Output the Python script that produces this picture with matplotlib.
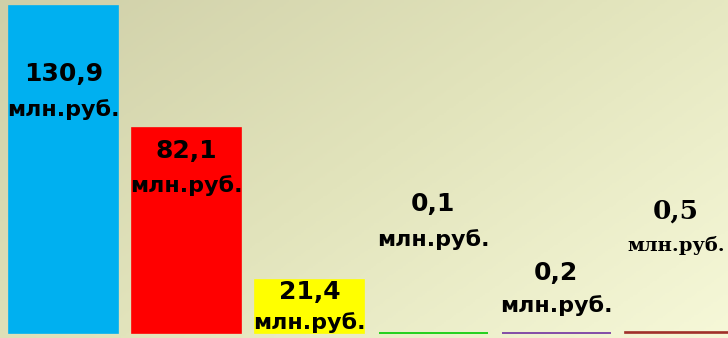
import numpy as np
import matplotlib
matplotlib.use("Agg")
import matplotlib.pyplot as plt
from matplotlib.colors import LinearSegmentedColormap

values = [130.9, 82.1, 21.4, 0.1, 0.2, 0.5]
labels = ["130,9", "82,1", "21,4", "0,1", "0,2", "0,5"]
unit = "млн.руб."
colors = ["#00b0f0", "#ff0000", "#ffff00", "#00cc00", "#7030a0", "#a0302a"]

# label placement (value line y, unit line y) in data units
label_y = [(103.5, 89.5), (73.0, 59.0), (16.5, 4.0), (51.5, 37.5), (24.0, 11.0), (49.0, 35.0)]

fig = plt.figure(figsize=(7.28, 3.38), dpi=100)

# background gradient
bg = fig.add_axes([0, 0, 1, 1])
gx, gy = np.meshgrid(np.linspace(0, 1, 300), np.linspace(0, 1, 150))
grad = (gx * 0.6 + gy * 0.4)
cmap = LinearSegmentedColormap.from_list("bg", ["#cfcfa8", "#e2e4bc", "#f6f8d8"])
bg.imshow(grad, cmap=cmap, aspect="auto", extent=[0, 1, 0, 1], origin="upper")
bg.set_axis_off()

ax = fig.add_axes([0, 0, 1, 1])
ax.patch.set_alpha(0)
x = np.arange(len(values))
ax.bar(x, values, width=0.885, color=colors, edgecolor=colors, linewidth=1.2)
ax.set_xlim(-0.515, 5.394)
ax.set_ylim(-2.0, 133.3)
ax.set_axis_off()

for i, (lab, (y1, y2)) in enumerate(zip(labels, label_y)):
    if i == 5:
        ax.text(i - 0.03, y1, lab, ha="center", va="center", fontsize=19,
                fontweight="bold", family="DejaVu Serif", color="black")
        ax.text(5.37, y2, unit, ha="right", va="center", fontsize=14,
                fontweight="bold", family="DejaVu Serif", color="black")
    else:
        ax.text(i, y1, lab, ha="center", va="center", fontsize=18,
                fontweight="bold", family="DejaVu Sans", color="black")
        ax.text(i, y2, unit, ha="center", va="center", fontsize=16,
                fontweight="bold", family="DejaVu Sans", color="black")

fig.savefig("out.png", dpi=100)
